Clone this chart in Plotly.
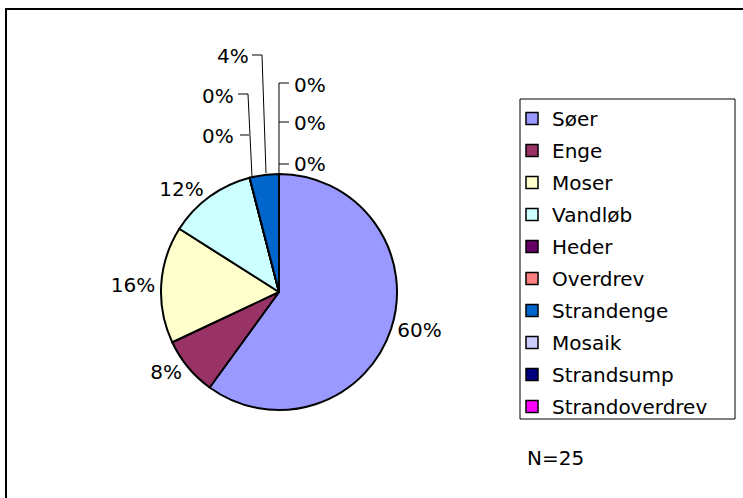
import plotly.graph_objects as go

# Data
labels = ["Søer", "Enge", "Moser", "Vandløb", "Heder", "Overdrev",
          "Strandenge", "Mosaik", "Strandsump", "Strandoverdrev"]
counts = [15, 2, 4, 3, 0, 0, 1, 0, 0, 0]
colors = ["#9999FF", "#993366", "#FFFFCC", "#CCFFFF", "#660066", "#FF8080",
          "#0066CC", "#CCCCFF", "#000080", "#FF00FF"]

N = sum(counts)
pct = [f"{round(100 * v / N)}%" for v in counts]

W, H = 743, 498
FONT = "Verdana, DejaVu Sans, sans-serif"
FS = 20


def px(x, y):
    # pixel -> paper (margins are zero)
    return x / W, 1 - y / H


# slices that get Excel-style leader-line labels instead of plotly's own
manual = {4: (236, 136, "right"), 5: (236, 96, "right"), 6: (251, 56, "right"),
          7: (292, 164, "left"), 8: (292, 123, "left"), 9: (292, 85, "left")}
auto_text = ["" if i in manual else t for i, t in enumerate(pct)]

cx, cy, r = 279, 292, 118
dx0, dy1 = px(cx - r, cy - r)
dx1, dy0 = px(cx + r, cy + r)

fig = go.Figure()
fig.add_trace(go.Pie(
    labels=labels, values=counts, sort=False, direction="clockwise",
    text=auto_text, texttemplate="%{text}", textposition="outside",
    textfont=dict(size=FS, color="black", family=FONT),
    marker=dict(colors=colors, line=dict(color="black", width=2)),
    domain=dict(x=[dx0, dx1], y=[dy0, dy1]),
    showlegend=False, hoverinfo="label+percent",
))

# legend entries (one group each so spacing can be tuned)
for lab, col in zip(labels, colors):
    fig.add_trace(go.Scatter(
        x=[None], y=[None], mode="markers", name=lab, legendgroup=lab,
        marker=dict(symbol="square", size=12, color=col,
                    line=dict(color="black", width=1.5)),
    ))

annotations = []
for i, (x, y, anchor) in manual.items():
    ax_, ay_ = px(x, y)
    annotations.append(dict(
        x=ax_, y=ay_, xref="paper", yref="paper", text=pct[i],
        showarrow=False, xanchor=anchor, yanchor="middle",
        font=dict(size=FS, color="black", family=FONT),
    ))
nx, ny = px(525, 458)
annotations.append(dict(
    x=nx, y=ny, xref="paper", yref="paper", text=f"N={N}", showarrow=False,
    xanchor="left", yanchor="middle",
    font=dict(size=FS, color="black", family=FONT),
))


def path(points):
    return "M " + " L ".join(f"{px(x, y)[0]:.5f},{px(x, y)[1]:.5f}" for x, y in points)


leader = dict(type="path", xref="paper", yref="paper",
              line=dict(color="black", width=1))
lb_x0, lb_y1 = px(520, 99)
lb_x1, lb_y0 = px(735, 419)
shapes = [
    dict(leader, path=path([(289, 83), (279, 83), (279, 174)])),
    dict(leader, path=path([(279, 122), (289, 122)])),
    dict(leader, path=path([(279, 164), (289, 164)])),
    dict(leader, path=path([(238, 94), (248, 94), (252, 177)])),
    dict(leader, path=path([(240, 135), (249, 135)])),
    dict(leader, path=path([(252, 55), (262, 55), (266, 173)])),
    # legend frame
    dict(type="rect", xref="paper", yref="paper",
         x0=lb_x0, x1=lb_x1, y0=lb_y0, y1=lb_y1,
         line=dict(color="black", width=1)),
    # chart-area frame
    dict(type="rect", xref="paper", yref="paper",
         x0=px(6, 0)[0], x1=1.02, y0=-0.02, y1=px(0, 9)[1],
         line=dict(color="black", width=2)),
]

fig.update_layout(
    width=W, height=H,
    margin=dict(l=0, r=0, t=0, b=0),
    paper_bgcolor="white", plot_bgcolor="white",
    font=dict(family=FONT, size=FS, color="black"),
    xaxis=dict(visible=False), yaxis=dict(visible=False),
    legend=dict(
        x=px(512, 0)[0], y=lb_y1, xanchor="left", yanchor="top",
        borderwidth=0, bgcolor="rgba(0,0,0,0)",
        font=dict(size=FS, family=FONT, color="black"),
        tracegroupgap=3,
    ),
    annotations=annotations,
    shapes=shapes,
)

fig.write_html("out.html", config={"displayModeBar": False},
               post_script="document.body.style.margin='0';")
